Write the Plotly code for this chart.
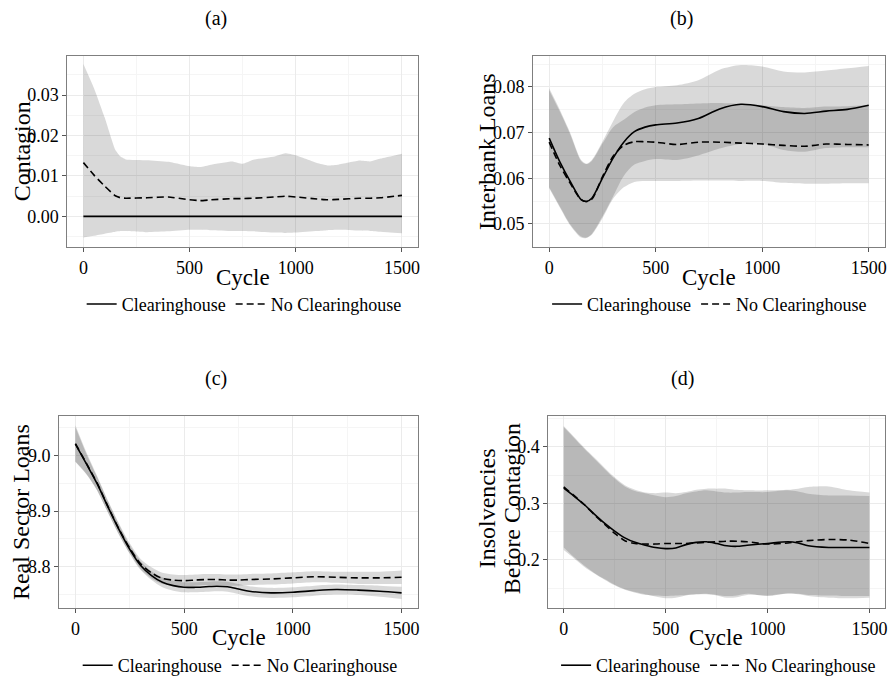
import plotly.graph_objects as go

# ---------------- DATA ----------------
# (a) Contagion
cyc_a = [0, 50, 100, 150, 175, 200, 300, 400, 500, 550, 600, 700, 750, 800, 900, 950, 1000, 1100, 1150, 1200, 1300, 1350, 1400, 1500]
a_nch = [0.0133, 0.0102, 0.0075, 0.0051, 0.0046, 0.0045, 0.0046, 0.0048, 0.0041, 0.0039, 0.0041, 0.0044, 0.0044, 0.0045, 0.0048, 0.0050, 0.0048, 0.0043, 0.0041, 0.0042, 0.0045, 0.0045, 0.0046, 0.0052]
a_nch_hi = [0.0377, 0.0317, 0.0245, 0.0165, 0.0148, 0.0141, 0.0139, 0.0135, 0.0124, 0.0122, 0.0128, 0.0136, 0.0130, 0.0140, 0.0148, 0.0156, 0.0151, 0.0132, 0.0126, 0.0128, 0.0138, 0.0136, 0.0143, 0.0155]
a_nch_lo = [-0.0052, -0.0048, -0.0043, -0.0038, -0.0036, -0.0036, -0.0039, -0.0037, -0.0033, -0.0033, -0.0034, -0.0036, -0.0036, -0.0037, -0.0040, -0.0041, -0.0040, -0.0036, -0.0034, -0.0033, -0.0035, -0.0036, -0.0038, -0.0042]
cyc_a_ch = [0, 1500]
a_ch = [0.0, 0.0]

# (b) Interbank Loans
cyc_b = [0, 50, 100, 150, 175, 200, 250, 300, 350, 400, 450, 500, 600, 700, 800, 900, 1000, 1100, 1200, 1300, 1400, 1500]
b_ch = [0.0688, 0.0636, 0.0592, 0.0553, 0.0549, 0.0556, 0.0600, 0.0644, 0.0679, 0.0702, 0.0712, 0.0717, 0.0721, 0.0731, 0.0752, 0.0762, 0.0757, 0.0746, 0.0742, 0.0747, 0.0751, 0.0760]
b_ch_lo = [0.0580, 0.0538, 0.0498, 0.0472, 0.0470, 0.0478, 0.0516, 0.0560, 0.0605, 0.0630, 0.0638, 0.0642, 0.0640, 0.0650, 0.0665, 0.0675, 0.0675, 0.0662, 0.0658, 0.0666, 0.0668, 0.0668]
b_ch_hi = [0.0797, 0.0750, 0.0698, 0.0640, 0.0632, 0.0640, 0.0680, 0.0725, 0.0765, 0.0785, 0.0795, 0.0800, 0.0804, 0.0815, 0.0838, 0.0848, 0.0845, 0.0834, 0.0832, 0.0836, 0.0841, 0.0846]
b_nch = [0.0679, 0.0628, 0.0588, 0.0553, 0.0549, 0.0554, 0.0603, 0.0648, 0.0672, 0.0680, 0.0680, 0.0679, 0.0674, 0.0679, 0.0679, 0.0677, 0.0675, 0.0672, 0.0670, 0.0675, 0.0674, 0.0673]
b_nch_lo = [0.0578, 0.0536, 0.0496, 0.0470, 0.0469, 0.0476, 0.0512, 0.0555, 0.0580, 0.0592, 0.0594, 0.0594, 0.0594, 0.0595, 0.0595, 0.0594, 0.0594, 0.0590, 0.0588, 0.0588, 0.0589, 0.0589]
b_nch_hi = [0.0793, 0.0746, 0.0695, 0.0638, 0.0631, 0.0638, 0.0676, 0.0712, 0.0728, 0.0745, 0.0755, 0.0760, 0.0762, 0.0764, 0.0765, 0.0763, 0.0760, 0.0756, 0.0754, 0.0757, 0.0758, 0.0760]

# (c) Real Sector Loans
cyc_c = [0, 50, 100, 150, 200, 250, 300, 350, 400, 450, 500, 550, 600, 650, 700, 750, 800, 900, 1000, 1100, 1200, 1300, 1400, 1500]
c_ch = [9.020, 8.985, 8.949, 8.907, 8.867, 8.831, 8.802, 8.784, 8.772, 8.766, 8.763, 8.763, 8.764, 8.765, 8.764, 8.760, 8.756, 8.753, 8.754, 8.757, 8.759, 8.758, 8.756, 8.753]
c_ch_lo = [8.989, 8.967, 8.937, 8.897, 8.858, 8.823, 8.794, 8.776, 8.763, 8.757, 8.754, 8.754, 8.755, 8.756, 8.755, 8.751, 8.747, 8.744, 8.745, 8.748, 8.750, 8.749, 8.746, 8.742]
c_ch_hi = [9.051, 9.003, 8.961, 8.917, 8.876, 8.839, 8.810, 8.792, 8.781, 8.775, 8.772, 8.772, 8.773, 8.774, 8.773, 8.769, 8.765, 8.762, 8.763, 8.766, 8.768, 8.767, 8.766, 8.764]
c_nch = [9.021, 8.986, 8.950, 8.908, 8.868, 8.833, 8.805, 8.789, 8.779, 8.776, 8.775, 8.776, 8.777, 8.777, 8.776, 8.776, 8.777, 8.778, 8.780, 8.782, 8.781, 8.780, 8.780, 8.781]
c_nch_lo = [8.988, 8.966, 8.937, 8.897, 8.858, 8.824, 8.796, 8.779, 8.769, 8.766, 8.765, 8.766, 8.767, 8.767, 8.766, 8.766, 8.767, 8.768, 8.770, 8.772, 8.771, 8.769, 8.769, 8.769]
c_nch_hi = [9.054, 9.006, 8.963, 8.919, 8.878, 8.842, 8.814, 8.799, 8.789, 8.786, 8.785, 8.786, 8.787, 8.787, 8.786, 8.786, 8.787, 8.788, 8.790, 8.792, 8.791, 8.791, 8.791, 8.793]

# (d) Insolvencies Before Contagion
cyc_d = [0, 50, 100, 150, 200, 250, 300, 350, 400, 450, 500, 550, 600, 650, 700, 750, 800, 850, 900, 1000, 1100, 1150, 1200, 1300, 1400, 1500]
d_ch = [0.327, 0.313, 0.298, 0.281, 0.265, 0.251, 0.239, 0.231, 0.226, 0.222, 0.220, 0.221, 0.227, 0.231, 0.232, 0.229, 0.225, 0.224, 0.226, 0.229, 0.232, 0.230, 0.225, 0.222, 0.222, 0.222]
d_ch_lo = [0.222, 0.205, 0.190, 0.177, 0.166, 0.156, 0.148, 0.143, 0.139, 0.135, 0.132, 0.133, 0.137, 0.139, 0.139, 0.137, 0.133, 0.134, 0.138, 0.137, 0.140, 0.139, 0.136, 0.133, 0.132, 0.133]
d_ch_hi = [0.435, 0.416, 0.397, 0.379, 0.361, 0.344, 0.330, 0.322, 0.318, 0.314, 0.311, 0.313, 0.318, 0.321, 0.323, 0.321, 0.319, 0.319, 0.320, 0.320, 0.323, 0.321, 0.317, 0.314, 0.314, 0.313]
d_nch = [0.329, 0.314, 0.298, 0.280, 0.263, 0.247, 0.234, 0.229, 0.228, 0.228, 0.229, 0.229, 0.229, 0.230, 0.231, 0.232, 0.233, 0.233, 0.232, 0.228, 0.230, 0.232, 0.234, 0.236, 0.235, 0.229]
d_nch_lo = [0.2175, 0.203, 0.188, 0.176, 0.165, 0.155, 0.147, 0.142, 0.138, 0.137, 0.136, 0.137, 0.138, 0.139, 0.140, 0.138, 0.136, 0.137, 0.140, 0.136, 0.141, 0.140, 0.138, 0.137, 0.136, 0.136]
d_nch_hi = [0.437, 0.418, 0.399, 0.381, 0.363, 0.346, 0.332, 0.324, 0.319, 0.318, 0.319, 0.318, 0.320, 0.324, 0.326, 0.326, 0.326, 0.324, 0.323, 0.323, 0.324, 0.326, 0.329, 0.330, 0.323, 0.319]

# ---------------- STYLE ----------------
W, H = 891, 684
FONT = "Liberation Serif"
RIBBON = "rgba(0,0,0,0.15)"
LINE_W = 1.6
DASH = "7px,4px"


def px(x):
    return x / W


def py(y):
    return 1 - y / H


fig = go.Figure()

panels = [
    dict(ax="", cyc=cyc_a, ch_x=cyc_a_ch, ch=a_ch, ch_lo=None, ch_hi=None,
         nch=a_nch, nch_lo=a_nch_lo, nch_hi=a_nch_hi,
         xd=(67.7, 419.3), yd=(56, 249.3), yr=(-0.0076, 0.0398), t0=0.0, dt=0.01, fmt=".2f",
         leg="legend", legx=245, legy=307, smooth=0.4),
    dict(ax="2", cyc=cyc_b, ch_x=cyc_b, ch=b_ch, ch_lo=b_ch_lo, ch_hi=b_ch_hi,
         nch=b_nch, nch_lo=b_nch_lo, nch_hi=b_nch_hi,
         xd=(535, 887.7), yd=(56, 249.3), yr=(0.0449, 0.0869), t0=0.05, dt=0.01, fmt=".2f",
         leg="legend2", legx=712, legy=307, smooth=0.8),
    dict(ax="3", cyc=cyc_c, ch_x=cyc_c, ch=c_ch, ch_lo=c_ch_lo, ch_hi=c_ch_hi,
         nch=c_nch, nch_lo=c_nch_lo, nch_hi=c_nch_hi,
         xd=(59.3, 419.3), yd=(420, 613.3), yr=(8.726, 9.070), t0=8.8, dt=0.1, fmt=".1f",
         leg="legend3", legx=241, legy=671.5, smooth=0.8),
    dict(ax="4", cyc=cyc_d, ch_x=cyc_d, ch=d_ch, ch_lo=d_ch_lo, ch_hi=d_ch_hi,
         nch=d_nch, nch_lo=d_nch_lo, nch_hi=d_nch_hi,
         xd=(550.3, 887.7), yd=(420, 613.3), yr=(0.115, 0.454), t0=0.2, dt=0.1, fmt=".1f",
         leg="legend4", legx=721, legy=671.5, smooth=0.8),
]

layout = {}
for p in panels:
    xa, ya = "x" + p["ax"], "y" + p["ax"]
    sm = p["smooth"]
    common = dict(xaxis=xa, yaxis=ya, hoverinfo="skip")
    if p["ch_lo"] is not None:
        fig.add_trace(go.Scatter(x=p["cyc"], y=p["ch_lo"], mode="lines",
                                 line=dict(width=0, shape="spline", smoothing=sm),
                                 showlegend=False, **common))
        fig.add_trace(go.Scatter(x=p["cyc"], y=p["ch_hi"], mode="lines",
                                 line=dict(width=0, shape="spline", smoothing=sm),
                                 fill="tonexty", fillcolor=RIBBON, showlegend=False, **common))
    fig.add_trace(go.Scatter(x=p["cyc"], y=p["nch_lo"], mode="lines",
                             line=dict(width=0, shape="spline", smoothing=sm),
                             showlegend=False, **common))
    fig.add_trace(go.Scatter(x=p["cyc"], y=p["nch_hi"], mode="lines",
                             line=dict(width=0, shape="spline", smoothing=sm),
                             fill="tonexty", fillcolor=RIBBON, showlegend=False, **common))
    fig.add_trace(go.Scatter(x=p["ch_x"], y=p["ch"], mode="lines", name="Clearinghouse",
                             line=dict(color="black", width=LINE_W, shape="spline", smoothing=sm),
                             legend=p["leg"], **common))
    fig.add_trace(go.Scatter(x=p["cyc"], y=p["nch"], mode="lines", name="No Clearinghouse",
                             line=dict(color="black", width=LINE_W, dash=DASH, shape="spline", smoothing=sm),
                             legend=p["leg"], **common))

    axis_common = dict(showline=True, mirror=True, linecolor="#7f7f7f", linewidth=1,
                       ticks="outside", ticklen=4, tickcolor="#555", tickwidth=1,
                       showgrid=True, gridcolor="#ebebeb", gridwidth=1, zeroline=False,
                       tickfont=dict(family=FONT, size=18, color="black"))
    layout["xaxis" + p["ax"]] = dict(
        domain=[px(p["xd"][0]), px(p["xd"][1])], anchor=ya, range=[-75, 1575],
        tick0=0, dtick=500, tickmode="linear",
        minor=dict(dtick=250, tick0=0, showgrid=True, gridcolor="#f5f5f5", gridwidth=1, ticks=""),
        **axis_common)
    layout["yaxis" + p["ax"]] = dict(
        domain=[py(p["yd"][1]), py(p["yd"][0])], anchor=xa, range=list(p["yr"]),
        tick0=p["t0"], dtick=p["dt"], tickmode="linear", tickformat=p["fmt"],
        minor=dict(dtick=p["dt"] / 2, tick0=p["t0"], showgrid=True, gridcolor="#f5f5f5", gridwidth=1, ticks=""),
        **axis_common)
    layout[p["leg"]] = dict(orientation="h", x=px(p["legx"]), y=py(p["legy"]),
                            xanchor="center", yanchor="middle",
                            font=dict(family=FONT, size=18, color="black"),
                            bgcolor="rgba(0,0,0,0)", itemwidth=30,
                            tracegroupgap=0, traceorder="normal")

annotations = []
titles = [("(a)", 217, 18.5), ("(b)", 683.5, 18.5), ("(c)", 217, 382), ("(d)", 684.5, 382)]
for t, x, y in titles:
    annotations.append(dict(text=t, x=px(x), y=py(y), xref="paper", yref="paper",
                            showarrow=False, xanchor="center", yanchor="middle",
                            font=dict(family=FONT, size=20, color="black")))
xtitles = [(243.5, 279.5), (711, 279.5), (239.5, 643.5), (718.5, 643.5)]
for x, y in xtitles:
    annotations.append(dict(text="Cycle", x=px(x), y=py(y), xref="paper", yref="paper",
                            showarrow=False, xanchor="center", yanchor="middle",
                            font=dict(family=FONT, size=23, color="black")))
ytitles = [("Contagion", 21.7, 153), ("Interbank Loans", 488.5, 152.5),
           ("Real Sector Loans", 21.7, 517), ("Insolvencies", 488.5, 513),
           ("Before Contagion", 513.5, 513)]
for t, x, y in ytitles:
    annotations.append(dict(text=t, x=px(x), y=py(y), xref="paper", yref="paper",
                            showarrow=False, xanchor="center", yanchor="middle", textangle=-90,
                            font=dict(family=FONT, size=24, color="black")))

fig.update_layout(
    width=W, height=H, margin=dict(l=0, r=0, t=0, b=0),
    paper_bgcolor="white", plot_bgcolor="white",
    annotations=annotations, **layout)

fig.write_html("out.html")
